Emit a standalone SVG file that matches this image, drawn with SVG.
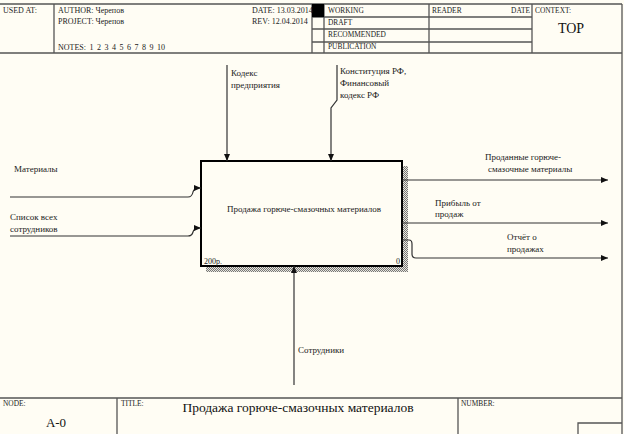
<svg xmlns="http://www.w3.org/2000/svg" width="624" height="434" viewBox="0 0 624 434">
<defs>
<style>
.frame{stroke:#555;stroke-width:1.3;fill:none}
.h{font-family:"Liberation Serif","Times New Roman",serif;font-size:8px;fill:#222}
.s{font-family:"Liberation Serif","Times New Roman",serif;font-size:7.4px;fill:#222}
.lbl{font-family:"Liberation Serif","Times New Roman",serif;font-size:9px;fill:#222}
.big{font-family:"Liberation Serif","Times New Roman",serif;fill:#111}
.arr{stroke:#333;stroke-width:1.2;fill:none;marker-end:url(#ah)}
</style>
<marker id="ah" markerWidth="8" markerHeight="6" refX="7" refY="3" orient="auto" markerUnits="userSpaceOnUse">
<path d="M0,0 L7,3 L0,6 Z" fill="#111"/>
</marker>
<pattern id="hatch" width="2" height="2" patternUnits="userSpaceOnUse">
<rect width="2" height="2" fill="#e8e6dc"/>
<rect width="1" height="1" fill="#777"/>
<rect x="1" y="1" width="1" height="1" fill="#777"/>
</pattern>
</defs>
<rect width="624" height="434" fill="#fffdf4"/>

<g id="header">
<line class="frame" x1="0" y1="4" x2="622" y2="4"/>
<line class="frame" x1="0" y1="53" x2="622" y2="53"/>
<line class="frame" x1="54" y1="4" x2="54" y2="53"/>
<line class="frame" x1="312" y1="4" x2="312" y2="53"/>
<line class="frame" x1="324" y1="4" x2="324" y2="53"/>
<line class="frame" x1="429" y1="4" x2="429" y2="53"/>
<line class="frame" x1="532" y1="4" x2="532" y2="53"/>
<line class="frame" x1="312" y1="17" x2="532" y2="17"/>
<line class="frame" x1="312" y1="29" x2="532" y2="29"/>
<line class="frame" x1="312" y1="42" x2="532" y2="42"/>
<rect x="312" y="4" width="12" height="13" fill="#000"/>
<text class="h" x="3" y="13">USED AT:</text>
<text class="h" x="58" y="13">AUTHOR:  Черепов</text>
<text class="h" x="58" y="24">PROJECT:  Черепов</text>
<text class="h" x="58" y="50" word-spacing="1.5">NOTES:  1  2  3  4  5  6  7  8  9  10</text>
<text class="h" x="252" y="13">DATE: 13.03.2014</text>
<text class="h" x="252" y="24">REV:    12.04.2014</text>
<text class="s" x="328" y="13">WORKING</text>
<text class="s" x="328" y="25">DRAFT</text>
<text class="s" x="328" y="37">RECOMMENDED</text>
<text class="s" x="328" y="49">PUBLICATION</text>
<text class="s" x="432" y="13">READER</text>
<text class="s" x="530" y="13" text-anchor="end">DATE</text>
<text class="s" x="535" y="13">CONTEXT:</text>
<text class="big" x="571" y="33" text-anchor="middle" font-size="14">TOP</text>
</g>

<line class="frame" x1="622" y1="4" x2="622" y2="434"/>

<g id="footer">
<line class="frame" x1="0" y1="398" x2="622" y2="398"/>
<line class="frame" x1="117" y1="398" x2="117" y2="434"/>
<line class="frame" x1="458" y1="398" x2="458" y2="434"/>
<polyline class="frame" points="578,434 578,423 622,423"/>
<text class="s" x="3" y="406">NODE:</text>
<text class="big" x="56" y="427" text-anchor="middle" font-size="13">A-0</text>
<text class="s" x="121" y="406">TITLE:</text>
<text class="big" x="298" y="412" text-anchor="middle" font-size="13.5">Продажа горюче-смазочных материалов</text>
<text class="s" x="461" y="406">NUMBER:</text>
</g>

<g id="node-A0">
<rect x="402" y="166" width="6" height="106" fill="url(#hatch)"/>
<rect x="206" y="266" width="202" height="6" fill="url(#hatch)"/>
<rect x="201" y="161" width="201" height="105" fill="#fffdf4" stroke="#000" stroke-width="2"/>
<text class="lbl" x="304" y="212" text-anchor="middle">Продажа горюче-смазочных материалов</text>
<text class="h" x="204" y="264">200р.</text>
<text class="h" x="396" y="264">0</text>
</g>

<g id="connectors">
<path class="arr" d="M10,197 H188 Q192,197 193,192 Q194,188 199,188 H201"/>
<path class="arr" d="M10,236 H188 Q192,236 193,232 Q194,228 199,228 H201"/>
<path class="arr" d="M227,65 V161"/>
<path class="arr" d="M337,65 V100 L331,108 V161"/>
<path class="arr" d="M294,385 V266"/>
<path class="arr" d="M402,180 H608"/>
<path class="arr" d="M402,223 H608"/>
<path class="arr" d="M402,240 H409 Q412,240 412,244 V254 Q412,258 416,258 H608"/>
</g>

<g id="labels">
<text class="lbl" x="14" y="172">Материалы</text>
<text class="lbl" x="10" y="220">Список всех</text>
<text class="lbl" x="10" y="232">сотрудников</text>
<text class="lbl" x="231" y="76">Кодекс</text>
<text class="lbl" x="231" y="88">предприятия</text>
<text class="lbl" x="340" y="74">Конституция РФ,</text>
<text class="lbl" x="340" y="86">Финансовый</text>
<text class="lbl" x="340" y="98">кодекс РФ</text>
<text class="lbl" x="485" y="160">Проданные горюче-</text>
<text class="lbl" x="488" y="172">смазочные материалы</text>
<text class="lbl" x="435" y="206">Прибыль от</text>
<text class="lbl" x="435" y="217">продаж</text>
<text class="lbl" x="507" y="240">Отчёт о</text>
<text class="lbl" x="507" y="252">продажах</text>
<text class="lbl" x="298" y="353">Сотрудники</text>
</g>
</svg>
